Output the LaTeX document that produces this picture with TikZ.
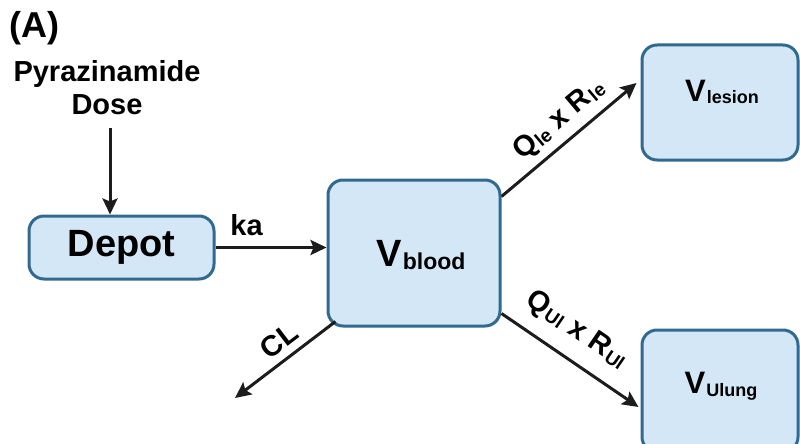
\documentclass[tikz,border=0pt]{standalone}
\usepackage{fontspec}
\setmainfont{Liberation Sans}
\usetikzlibrary{arrows.meta,calc}
\definecolor{boxfill}{HTML}{D4E7F6}
\definecolor{boxline}{HTML}{31698F}
\definecolor{arr}{HTML}{1C1C1C}
\newcommand\subtxt[1]{\kern1pt\raisebox{-2.5pt}{\fontsize{19}{19}\selectfont #1}}
\begin{document}
\begin{tikzpicture}[x=1pt,y=-1pt,
  comp/.style={draw=boxline,fill=boxfill,line width=3pt,rounded corners=15pt,inner sep=0pt},
  flow/.style={draw=arr,line width=3pt,-{Stealth[length=16pt,width=15pt,inset=3pt]}},
  lbl/.style={font=\bfseries\fontsize{29}{31}\selectfont,inner sep=0pt,text=black}]
\useasboundingbox (0,0) rectangle (800,444);
\fill[white] (0,0) rectangle (800,444);

% title
\node[lbl,font=\bfseries\fontsize{36}{38}\selectfont,anchor=west] (title) at (9,28) {(A)};

% dose text
\node[lbl,align=center,anchor=north,font=\bfseries\fontsize{29}{33}\selectfont] (dose) at (107,60) {Pyrazinamide\\Dose};

% compartments
\node[comp,minimum width=185pt,minimum height=63pt,font=\bfseries\fontsize{38}{40}\selectfont] (depot) at (121.5,247.5) {\raisebox{-2pt}{Depot}};
\node[comp,minimum width=172pt,minimum height=146pt] (blood) at (414,253) {};
\node[lbl,anchor=center] (bloodtxt) at ($(blood.center)+(7,2)$) {{\fontsize{38}{40}\selectfont V}\kern1pt\raisebox{-3pt}{\fontsize{23}{24}\selectfont blood}};
\node[comp,minimum width=156pt,minimum height=115pt] (lesion) at (720,102.5) {};
\node[lbl,anchor=center] (lesiontxt) at ($(lesion.center)+(2,-11)$) {{\fontsize{31}{32}\selectfont V}\kern1pt\raisebox{-2pt}{\fontsize{18}{20}\selectfont lesion}};
\node[comp,minimum width=156pt,minimum height=122pt] (ulung) at (720,391) {};
\node[lbl,anchor=center] (ulungtxt) at ($(ulung.center)+(1,-5)$) {{\fontsize{31}{32}\selectfont V}\kern1pt\raisebox{-3pt}{\fontsize{18}{20}\selectfont Ulung}};

% connectors
\coordinate (dosestart) at (110,128);
\draw[flow] (dosestart) -- (dosestart |- depot.north);
\draw[flow] (depot.east) -- (depot.east -| blood.west)
  node[lbl,pos=0.28,above=10pt] (ka) {ka};
\draw[flow] ($(blood.north east)+(0,18)$) -- ($(lesion.west)+(-4,-19.5)$)
  node[lbl,pos=0.53,sloped,above=7pt] (qle) {Q\subtxt{le} x R\subtxt{le}};
\draw[flow] ($(blood.south east)+(0,-14)$) -- ($(ulung.west)+(-2,16)$)
  node[lbl,pos=0.43,sloped,above=14pt] (qul) {Q\subtxt{Ul} x R\subtxt{Ul}};
\coordinate (clend) at (235,398);
\draw[flow] ($(blood.south west)+(9,-6)$) -- (clend)
  node[lbl,pos=0.45,sloped,above=7pt] (cl) {CL};
\end{tikzpicture}
\end{document}
